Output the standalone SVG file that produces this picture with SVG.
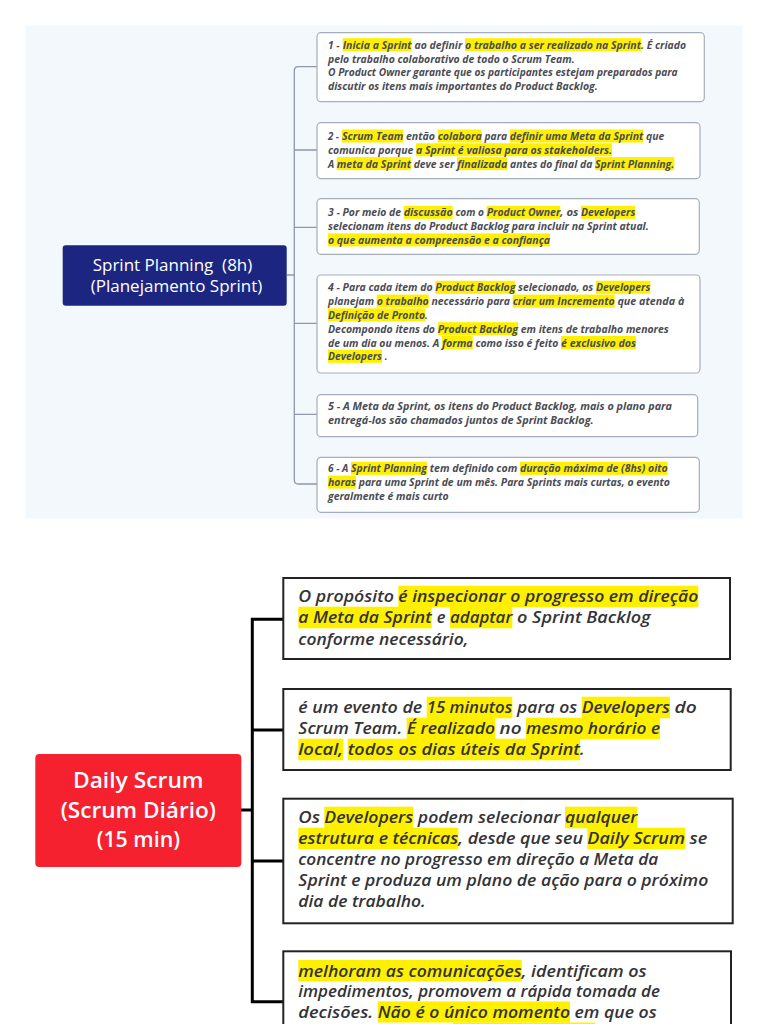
<svg xmlns="http://www.w3.org/2000/svg" width="768" height="1024" viewBox="0 0 768 1024">
<style>
.hl{fill:#fff000}
.t{font-family:"Open Sans","Liberation Sans",sans-serif;font-size:9.8px;font-weight:700;font-style:italic;fill:#4a4c55}
.b{font-family:"Open Sans","Liberation Sans",sans-serif;font-size:16.5px;font-weight:600;font-style:italic;fill:#333338}
.tb{fill:#ffffff;stroke:#a6adbb;stroke-width:1.2}
.bb{fill:#ffffff;stroke:#222222;stroke-width:2}
.c1{fill:none;stroke:#8e97ab;stroke-width:1.3}
.c2{fill:none;stroke:#000000;stroke-width:3}
.nt{font-family:"Open Sans","Liberation Sans",sans-serif;fill:#ffffff;text-anchor:middle}
</style>
<rect x="0" y="0" width="768" height="1024" fill="#ffffff"/>
<rect x="25.5" y="25.5" width="717" height="493" fill="#f3f8fd"/>

<g id="connectors">
<path class="c1" d="M287,275 H294.3 M317,66.7 H298.3 Q294.3,66.7 294.3,70.7 V480 Q294.3,484 298.3,484 H317 M294.3,150 H317 M294.3,227.3 H317 M294.3,323.3 H317 M294.3,414.3 H317"/>
<path class="c2" d="M241,810 H252.3 M283,619.3 H252.3 V1001.7 H283 M252.3,730 H283 M252.3,861 H283"/>
</g>

<g id="sprint-planning">
<rect x="62.7" y="245.3" width="224" height="60.4" rx="3" fill="#1c2680"/>
<text class="nt" x="172.5" y="270.5" font-size="16.5" textLength="159.6" lengthAdjust="spacingAndGlyphs" style="white-space:pre">Sprint Planning  (8h)</text>
<text class="nt" x="176.5" y="291.5" font-size="16.5" textLength="171.6" lengthAdjust="spacingAndGlyphs">(Planejamento Sprint)</text>
</g>

<g id="sp-1">
<rect class="tb" x="317" y="32.7" width="387.3" height="69" rx="4"/>
<rect class="hl" x="342.7" y="38.2" width="69" height="13"/>
<rect class="hl" x="465" y="38.2" width="176" height="13"/>
<text class="t" x="328" y="48.7" textLength="11.5" lengthAdjust="spacingAndGlyphs">1 -</text>
<text class="t" x="342.7" y="48.7" textLength="69" lengthAdjust="spacingAndGlyphs">Inicia a Sprint</text>
<text class="t" x="414.5" y="48.7" textLength="47.8" lengthAdjust="spacingAndGlyphs">ao definir</text>
<text class="t" x="465" y="48.7" textLength="176" lengthAdjust="spacingAndGlyphs">o trabalho a ser realizado na Sprint</text>
<text class="t" x="641" y="48.7" textLength="45" lengthAdjust="spacingAndGlyphs">. É criado</text>
<text class="t" x="328" y="62.5" textLength="246.7" lengthAdjust="spacingAndGlyphs">pelo trabalho colaborativo de todo o Scrum Team.</text>
<text class="t" x="328" y="76.3" textLength="349.7" lengthAdjust="spacingAndGlyphs">O Product Owner garante que os participantes estejam preparados para</text>
<text class="t" x="328" y="90.1" textLength="269.7" lengthAdjust="spacingAndGlyphs">discutir os itens mais importantes do Product Backlog.</text>
</g>

<g id="sp-2">
<rect class="tb" x="317" y="122.7" width="383" height="56" rx="4"/>
<rect class="hl" x="342" y="129.5" width="61.3" height="13"/>
<rect class="hl" x="437.7" y="129.5" width="44" height="13"/>
<rect class="hl" x="509.7" y="129.5" width="133.6" height="13"/>
<rect class="hl" x="416" y="143.3" width="196" height="13"/>
<rect class="hl" x="336.7" y="157.1" width="74.3" height="13"/>
<rect class="hl" x="457" y="157.1" width="50.3" height="13"/>
<rect class="hl" x="595" y="157.1" width="79.3" height="13"/>
<text class="t" x="328" y="140" textLength="11" lengthAdjust="spacingAndGlyphs">2 -</text>
<text class="t" x="342" y="140" textLength="61.3" lengthAdjust="spacingAndGlyphs">Scrum Team</text>
<text class="t" x="406" y="140" textLength="29" lengthAdjust="spacingAndGlyphs">então</text>
<text class="t" x="437.7" y="140" textLength="44" lengthAdjust="spacingAndGlyphs">colabora</text>
<text class="t" x="484.5" y="140" textLength="22.5" lengthAdjust="spacingAndGlyphs">para</text>
<text class="t" x="509.7" y="140" textLength="133.6" lengthAdjust="spacingAndGlyphs">definir uma Meta da Sprint</text>
<text class="t" x="646" y="140" textLength="18.3" lengthAdjust="spacingAndGlyphs">que</text>
<text class="t" x="328" y="153.8" textLength="85.3" lengthAdjust="spacingAndGlyphs">comunica porque</text>
<text class="t" x="416" y="153.8" textLength="196" lengthAdjust="spacingAndGlyphs">a Sprint é valiosa para os stakeholders.</text>
<text class="t" x="328" y="167.6">A</text>
<text class="t" x="336.7" y="167.6" textLength="74.3" lengthAdjust="spacingAndGlyphs">meta da Sprint</text>
<text class="t" x="413.7" y="167.6" textLength="40.6" lengthAdjust="spacingAndGlyphs">deve ser</text>
<text class="t" x="457" y="167.6" textLength="50.3" lengthAdjust="spacingAndGlyphs">finalizada</text>
<text class="t" x="510" y="167.6" textLength="82.3" lengthAdjust="spacingAndGlyphs">antes do final da</text>
<text class="t" x="595" y="167.6" textLength="79.3" lengthAdjust="spacingAndGlyphs">Sprint Planning.</text>
</g>

<g id="sp-3">
<rect class="tb" x="317" y="198.7" width="382.3" height="55.6" rx="4"/>
<rect class="hl" x="403.7" y="205.8" width="49" height="13"/>
<rect class="hl" x="486.7" y="205.8" width="73.6" height="13"/>
<rect class="hl" x="581" y="205.8" width="54.3" height="13"/>
<rect class="hl" x="328" y="233.4" width="222" height="13"/>
<text class="t" x="328" y="216.3" textLength="73" lengthAdjust="spacingAndGlyphs">3 - Por meio de</text>
<text class="t" x="403.7" y="216.3" textLength="49" lengthAdjust="spacingAndGlyphs">discussão</text>
<text class="t" x="455.4" y="216.3" textLength="28.6" lengthAdjust="spacingAndGlyphs">com o</text>
<text class="t" x="486.7" y="216.3" textLength="73.6" lengthAdjust="spacingAndGlyphs">Product Owner</text>
<text class="t" x="560.3" y="216.3" textLength="18.2" lengthAdjust="spacingAndGlyphs">, os</text>
<text class="t" x="581" y="216.3" textLength="54.3" lengthAdjust="spacingAndGlyphs">Developers</text>
<text class="t" x="328" y="230.1" textLength="320.7" lengthAdjust="spacingAndGlyphs">selecionam itens do Product Backlog para incluir na Sprint atual.</text>
<text class="t" x="328" y="243.9" textLength="222" lengthAdjust="spacingAndGlyphs">o que aumenta a compreensão e a confiança</text>
</g>

<g id="sp-4">
<rect class="tb" x="317" y="275" width="383" height="98" rx="4"/>
<rect class="hl" x="435.3" y="280.8" width="80" height="13"/>
<rect class="hl" x="596" y="280.8" width="54.3" height="13"/>
<rect class="hl" x="376.7" y="294.6" width="52" height="13"/>
<rect class="hl" x="512.7" y="294.6" width="102" height="13"/>
<rect class="hl" x="328" y="308.4" width="97" height="13"/>
<rect class="hl" x="437.7" y="322.2" width="80.3" height="13"/>
<rect class="hl" x="442" y="336" width="30.7" height="13"/>
<rect class="hl" x="561" y="336" width="75" height="13"/>
<rect class="hl" x="328" y="349.8" width="54" height="13"/>
<text class="t" x="328" y="291.3" textLength="104.6" lengthAdjust="spacingAndGlyphs">4 - Para cada item do</text>
<text class="t" x="435.3" y="291.3" textLength="80" lengthAdjust="spacingAndGlyphs">Product Backlog</text>
<text class="t" x="518" y="291.3" textLength="75.3" lengthAdjust="spacingAndGlyphs">selecionado, os</text>
<text class="t" x="596" y="291.3" textLength="54.3" lengthAdjust="spacingAndGlyphs">Developers</text>
<text class="t" x="328" y="305.1" textLength="46" lengthAdjust="spacingAndGlyphs">planejam</text>
<text class="t" x="376.7" y="305.1" textLength="52" lengthAdjust="spacingAndGlyphs">o trabalho</text>
<text class="t" x="431.4" y="305.1" textLength="78.6" lengthAdjust="spacingAndGlyphs">necessário para</text>
<text class="t" x="512.7" y="305.1" textLength="102" lengthAdjust="spacingAndGlyphs">criar um Incremento</text>
<text class="t" x="617.4" y="305.1" textLength="66.9" lengthAdjust="spacingAndGlyphs">que atenda à</text>
<text class="t" x="328" y="318.9" textLength="97" lengthAdjust="spacingAndGlyphs">Definição de Pronto</text>
<text class="t" x="425" y="318.9">.</text>
<text class="t" x="328" y="332.7" textLength="107" lengthAdjust="spacingAndGlyphs">Decompondo itens do</text>
<text class="t" x="437.7" y="332.7" textLength="80.3" lengthAdjust="spacingAndGlyphs">Product Backlog</text>
<text class="t" x="520.7" y="332.7" textLength="148" lengthAdjust="spacingAndGlyphs">em itens de trabalho menores</text>
<text class="t" x="328" y="346.5" textLength="111.3" lengthAdjust="spacingAndGlyphs">de um dia ou menos. A</text>
<text class="t" x="442" y="346.5" textLength="30.7" lengthAdjust="spacingAndGlyphs">forma</text>
<text class="t" x="475.4" y="346.5" textLength="82.9" lengthAdjust="spacingAndGlyphs">como isso é feito</text>
<text class="t" x="561" y="346.5" textLength="75" lengthAdjust="spacingAndGlyphs">é exclusivo dos</text>
<text class="t" x="328" y="360.3" textLength="54" lengthAdjust="spacingAndGlyphs">Developers</text>
<text class="t" x="384.8" y="360.3">.</text>
</g>

<g id="sp-5">
<rect class="tb" x="317" y="394.7" width="380.7" height="42" rx="4"/>
<text class="t" x="328" y="410.3" textLength="344" lengthAdjust="spacingAndGlyphs">5 - A Meta da Sprint, os itens do Product Backlog, mais o plano para</text>
<text class="t" x="328" y="424.3" textLength="265.7" lengthAdjust="spacingAndGlyphs">entregá-los são chamados juntos de Sprint Backlog.</text>
</g>

<g id="sp-6">
<rect class="tb" x="317" y="457.3" width="382.3" height="55" rx="4"/>
<rect class="hl" x="351" y="461.8" width="76" height="13"/>
<rect class="hl" x="520" y="461.8" width="147.7" height="13"/>
<rect class="hl" x="328" y="475.6" width="28" height="13"/>
<text class="t" x="328" y="472.3" textLength="20.3" lengthAdjust="spacingAndGlyphs">6 - A</text>
<text class="t" x="351" y="472.3" textLength="76" lengthAdjust="spacingAndGlyphs">Sprint Planning</text>
<text class="t" x="429.7" y="472.3" textLength="87.6" lengthAdjust="spacingAndGlyphs">tem definido com</text>
<text class="t" x="520" y="472.3" textLength="147.7" lengthAdjust="spacingAndGlyphs">duração máxima de (8hs) oito</text>
<text class="t" x="328" y="486.1" textLength="28" lengthAdjust="spacingAndGlyphs">horas</text>
<text class="t" x="358.7" y="486.1" textLength="311.3" lengthAdjust="spacingAndGlyphs">para uma Sprint de um mês. Para Sprints mais curtas, o evento</text>
<text class="t" x="328" y="499.9" textLength="120.7" lengthAdjust="spacingAndGlyphs">geralmente é mais curto</text>
</g>

<g id="daily-scrum">
<rect x="35.3" y="754" width="206" height="113" rx="4" fill="#f5212f"/>
<text class="nt" x="138.3" y="788.3" font-size="21" font-weight="600" textLength="130.7" lengthAdjust="spacingAndGlyphs">Daily Scrum</text>
<text class="nt" x="138.3" y="817.7" font-size="21" font-weight="600" textLength="155.3" lengthAdjust="spacingAndGlyphs">(Scrum Diário)</text>
<text class="nt" x="138.3" y="846.7" font-size="21" font-weight="600" textLength="83.3" lengthAdjust="spacingAndGlyphs">(15 min)</text>
</g>

<g id="ds-1">
<rect class="bb" x="283.3" y="578" width="446.7" height="81"/>
<rect class="hl" x="398.3" y="585.7" width="300" height="21.6"/>
<rect class="hl" x="298.3" y="606.7" width="133.4" height="21.6"/>
<rect class="hl" x="450" y="606.7" width="62.3" height="21.6"/>
<text class="b" x="298.3" y="602.3" textLength="95.7" lengthAdjust="spacingAndGlyphs">O propósito</text>
<text class="b" x="398.3" y="602.3" textLength="300" lengthAdjust="spacingAndGlyphs">é inspecionar o progresso em direção</text>
<text class="b" x="298.3" y="623.3" textLength="133.4" lengthAdjust="spacingAndGlyphs">a Meta da Sprint</text>
<text class="b" x="436.8" y="623.3">e</text>
<text class="b" x="450" y="623.3" textLength="62.3" lengthAdjust="spacingAndGlyphs">adaptar</text>
<text class="b" x="517" y="623.3" textLength="133.7" lengthAdjust="spacingAndGlyphs">o Sprint Backlog</text>
<text class="b" x="298.3" y="644.5" textLength="170" lengthAdjust="spacingAndGlyphs">conforme necessário,</text>
</g>

<g id="ds-2">
<rect class="bb" x="283.3" y="689" width="447.4" height="81"/>
<rect class="hl" x="426.7" y="696.7" width="85.6" height="21.6"/>
<rect class="hl" x="581.7" y="696.7" width="88.3" height="21.6"/>
<rect class="hl" x="406.7" y="717.7" width="88.3" height="21.6"/>
<rect class="hl" x="526" y="717.7" width="134" height="21.6"/>
<rect class="hl" x="298.3" y="738.7" width="45" height="21.6"/>
<rect class="hl" x="347.7" y="738.7" width="232.3" height="21.6"/>
<text class="b" x="298.3" y="713.3" textLength="123.9" lengthAdjust="spacingAndGlyphs">é um evento de</text>
<text class="b" x="426.7" y="713.3" textLength="85.6" lengthAdjust="spacingAndGlyphs">15 minutos</text>
<text class="b" x="517" y="713.3" textLength="60.2" lengthAdjust="spacingAndGlyphs">para os</text>
<text class="b" x="581.7" y="713.3" textLength="88.3" lengthAdjust="spacingAndGlyphs">Developers</text>
<text class="b" x="674.5" y="713.3" textLength="22.2" lengthAdjust="spacingAndGlyphs">do</text>
<text class="b" x="298.3" y="734.3" textLength="103.9" lengthAdjust="spacingAndGlyphs">Scrum Team.</text>
<text class="b" x="406.7" y="734.3" textLength="88.3" lengthAdjust="spacingAndGlyphs">É realizado</text>
<text class="b" x="499.5" y="734.3" textLength="22" lengthAdjust="spacingAndGlyphs">no</text>
<text class="b" x="526" y="734.3" textLength="134" lengthAdjust="spacingAndGlyphs">mesmo horário e</text>
<text class="b" x="298.3" y="755.3" textLength="45" lengthAdjust="spacingAndGlyphs">local,</text>
<text class="b" x="347.7" y="755.3" textLength="232.3" lengthAdjust="spacingAndGlyphs">todos os dias úteis da Sprint</text>
<text class="b" x="580" y="755.3">.</text>
</g>

<g id="ds-3">
<rect class="bb" x="283.3" y="798.7" width="449.4" height="124.6"/>
<rect class="hl" x="324.3" y="806.7" width="89" height="21.6"/>
<rect class="hl" x="565" y="806.7" width="72.3" height="21.6"/>
<rect class="hl" x="298.3" y="827.7" width="160" height="21.6"/>
<rect class="hl" x="587.3" y="827.7" width="97.7" height="21.6"/>
<text class="b" x="298.3" y="823.3" textLength="21.7" lengthAdjust="spacingAndGlyphs">Os</text>
<text class="b" x="324.3" y="823.3" textLength="89" lengthAdjust="spacingAndGlyphs">Developers</text>
<text class="b" x="417.8" y="823.3" textLength="142.7" lengthAdjust="spacingAndGlyphs">podem selecionar</text>
<text class="b" x="565" y="823.3" textLength="72.3" lengthAdjust="spacingAndGlyphs">qualquer</text>
<text class="b" x="298.3" y="844.3" textLength="160" lengthAdjust="spacingAndGlyphs">estrutura e técnicas</text>
<text class="b" x="458.3" y="844.3" textLength="124.7" lengthAdjust="spacingAndGlyphs">, desde que seu</text>
<text class="b" x="587.3" y="844.3" textLength="97.7" lengthAdjust="spacingAndGlyphs">Daily Scrum</text>
<text class="b" x="689.5" y="844.3" textLength="17.8" lengthAdjust="spacingAndGlyphs">se</text>
<text class="b" x="298.3" y="865.3" textLength="360" lengthAdjust="spacingAndGlyphs">concentre no progresso em direção a Meta da</text>
<text class="b" x="298.3" y="886.3" textLength="410" lengthAdjust="spacingAndGlyphs">Sprint e produza um plano de ação para o próximo</text>
<text class="b" x="298.3" y="907.3" textLength="127.4" lengthAdjust="spacingAndGlyphs">dia de trabalho.</text>
</g>

<g id="ds-4">
<rect class="bb" x="283.3" y="951.3" width="447.7" height="90"/>
<rect class="hl" x="298.3" y="959.9" width="223.4" height="21.6"/>
<rect class="hl" x="377.7" y="1001.4" width="192.3" height="21.1"/>
<rect class="hl" x="453" y="1022.5" width="142" height="3"/>
<text class="b" x="298.3" y="976.5" textLength="223.4" lengthAdjust="spacingAndGlyphs">melhoram as comunicações</text>
<text class="b" x="521.7" y="976.5" textLength="125" lengthAdjust="spacingAndGlyphs">, identificam os</text>
<text class="b" x="298.3" y="997.3" textLength="361.7" lengthAdjust="spacingAndGlyphs">impedimentos, promovem a rápida tomada de</text>
<text class="b" x="298.3" y="1018" textLength="74.9" lengthAdjust="spacingAndGlyphs">decisões.</text>
<text class="b" x="377.7" y="1018" textLength="192.3" lengthAdjust="spacingAndGlyphs">Não é o único momento</text>
<text class="b" x="574.5" y="1018" textLength="82.2" lengthAdjust="spacingAndGlyphs">em que os</text>
</g>
</svg>
